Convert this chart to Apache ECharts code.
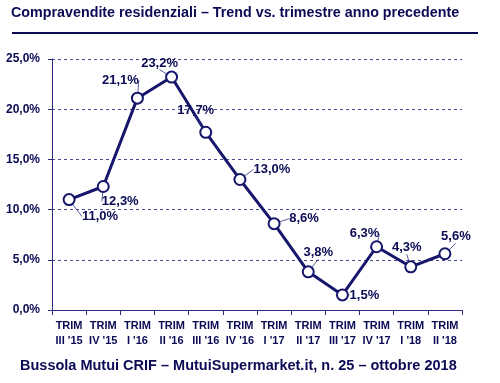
<!DOCTYPE html>
<html>
<head>
<meta charset="utf-8">
<script src="https://cdn.jsdelivr.net/npm/echarts@6/dist/echarts.min.js"></script>
<style>html,body{margin:0;padding:0;background:#fff}#c{width:500px;height:383px}</style>
</head>
<body>
<div id="c"></div>
<script>
var categories = ["TRIM\nIII '15","TRIM\nIV '15","TRIM\nI '16","TRIM\nII '16","TRIM\nIII '16","TRIM\nIV '16","TRIM\nI '17","TRIM\nII '17","TRIM\nIII '17","TRIM\nIV '17","TRIM\nI '18","TRIM\nII '18"];
var values = [11.0, 12.3, 21.1, 23.2, 17.7, 13.0, 8.6, 3.8, 1.5, 6.3, 4.3, 5.6];
var yTicks = [0, 5, 10, 15, 20, 25];
var labelDx = [31, 17, -17, -12, -10, 32, 30, 10, 22, -12, -4, 11];
var labelDy = [17, 15, -18, -14, -22, -10, -5, -19, 0, -13, -19, -17];

var navy = '#16166c';
var textNavy = '#0a0a55';
var chart = echarts.init(document.getElementById('c'), null, {renderer: 'canvas'});
var fmt = function (v) { return v.toFixed(1).replace('.', ',') + '%'; };
chart.setOption({
  animation: false,
  title: [{
    text: 'Compravendite residenziali \u2013 Trend vs. trimestre anno precedente',
    left: 11, top: 6, padding: 0,
    textStyle: {fontFamily: 'Liberation Sans, Arial', fontWeight: 'bold', fontSize: 14.3, color: textNavy}
  }, {
    text: 'Bussola Mutui CRIF \u2013 MutuiSupermarket.it, n. 25 \u2013 ottobre 2018',
    left: 20, top: 358, padding: 0,
    textStyle: {fontFamily: 'Liberation Sans, Arial', fontWeight: 'bold', fontSize: 14.5, color: textNavy}
  }],
  graphic: [{
    type: 'line', shape: {x1: 12, y1: 33, x2: 478, y2: 33},
    style: {stroke: textNavy, lineWidth: 2}
  }],
  grid: {left: 52, right: 38, top: 59, bottom: 73},
  xAxis: {
    type: 'category', data: categories, boundaryGap: true,
    axisLine: {lineStyle: {color: '#2a2a80', width: 1}},
    axisTick: {show: true, length: 5, lineStyle: {color: '#2a2a80'}},
    axisLabel: {fontFamily: 'Liberation Sans, Arial', fontWeight: 'bold', fontSize: 11, color: textNavy, lineHeight: 15, margin: 8, interval: 0}
  },
  yAxis: {
    type: 'value', min: yTicks[0], max: yTicks[yTicks.length - 1], interval: 5,
    axisLine: {show: true, lineStyle: {color: '#2a2a80', width: 1}},
    axisTick: {show: true, length: 4, lineStyle: {color: '#2a2a80'}},
    splitLine: {lineStyle: {color: '#4a4a95', type: [3, 3], width: 1}},
    axisLabel: {fontFamily: 'Liberation Sans, Arial', fontWeight: 'bold', fontSize: 12, color: textNavy, margin: 12,
      formatter: function (v) { return fmt(v); }}
  },
  series: [{
    type: 'line', data: values,
    symbol: 'emptyCircle', symbolSize: 11,
    lineStyle: {color: navy, width: 3},
    itemStyle: {color: navy, borderColor: navy, borderWidth: 2},
    label: {
      show: true, position: 'inside',
      fontFamily: 'Liberation Sans, Arial', fontWeight: 'bold', fontSize: 13, color: textNavy,
      formatter: function (p) { return fmt(p.value); }
    },
    labelLine: {show: true, lineStyle: {color: '#333380', width: 0.8}},
    labelLayout: function (p) {
      var i = p.dataIndex;
      return {dx: labelDx[i], dy: labelDy[i]};
    }
  }]
});
</script>
</body>
</html>
